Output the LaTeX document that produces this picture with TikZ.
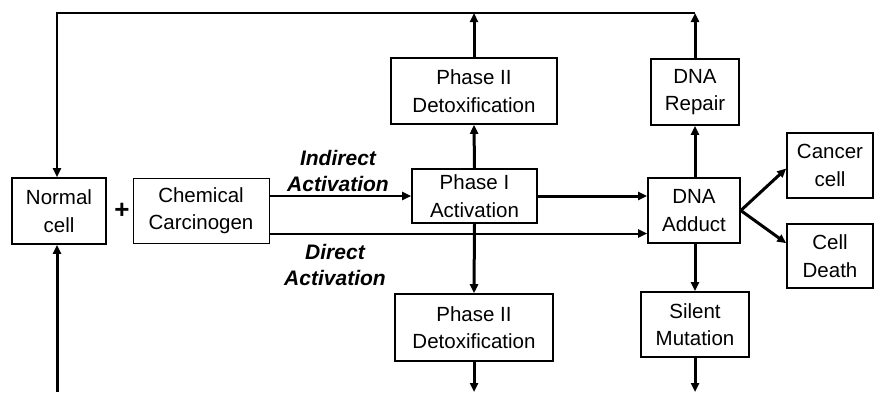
\documentclass[tikz,border=0pt]{standalone}
\usepackage{fontspec}
\setmainfont{Liberation Sans}
\usetikzlibrary{arrows.meta}

\begin{document}
\begin{tikzpicture}[x=1pt,y=-1pt,
  box/.style={draw,line width=1.6pt,inner sep=0pt,align=center,font=\fontsize{20.5}{27.5}\selectfont},
  headed/.style={-{Triangle[length=9pt,width=8pt]}},
  flow/.style={line width=3pt,headed},
  link/.style={line width=2pt},
  actlabel/.style={font=\fontsize{21}{26}\selectfont\bfseries\itshape,align=center,inner sep=0pt}]
\useasboundingbox (0,0) rectangle (875,392);
\node[box,minimum width=94pt,minimum height=66pt] (normal) at (59,211) {Normal\\cell};
\node[font=\fontsize{26}{26}\selectfont\bfseries,inner sep=0pt] (plus) at (122,211) {+};
\node[box,line width=1pt,minimum width=136pt,minimum height=65pt] (carcinogen) at (201,210.5) {Chemical\\Carcinogen};
\node[box,minimum width=125pt,minimum height=54pt] (phaseI) at (474.5,196) {Phase I\\Activation};
\node[box,minimum width=166pt,minimum height=66pt] (detoxup) at (474,91) {Phase II\\Detoxification};
\node[box,minimum width=158pt,minimum height=67pt] (detoxdown) at (474,327.5) {Phase II\\Detoxification};
\node[box,minimum width=92pt,minimum height=65pt] (adduct) at (694,210.5) {DNA\\Adduct};
\node[box,minimum width=88pt,minimum height=66pt] (repair) at (695,92) {DNA\\Repair};
\node[box,minimum width=108pt,minimum height=65pt] (silent) at (695,324.5) {Silent\\Mutation};
\node[box,minimum width=86pt,minimum height=65pt] (cancer) at (830,165.5) {Cancer\\cell};
\node[box,minimum width=86pt,minimum height=64pt] (death) at (830,256) {Cell\\Death};
\node[actlabel] (lblIndirect) at (338,171) {Indirect\\Activation};
\node[actlabel] (lblDirect) at (335,265) {Direct\\Activation};
% loop back to the normal cell
\coordinate (cTopLeft) at (57,13);
\coordinate (cDetoxTop) at (474,13);
\coordinate (cRepairTop) at (695,13);
\coordinate (cNormalBot) at (57,392);
\coordinate (cDetoxBot) at (474,392);
\coordinate (cSilentBot) at (695,392);
\draw[link,headed] (cRepairTop) -- (cTopLeft) -- (cTopLeft |- normal.north);
\draw[flow] (cNormalBot) -- (cNormalBot |- normal.south);
% activation routes
\draw[link,headed] (carcinogen.east |- phaseI.west) -- (phaseI.west);
\coordinate (cDirect) at ([yshift=-23pt]carcinogen.east);
\draw[link,headed] (cDirect) -- (cDirect -| adduct.west);
\draw[flow] (phaseI.east) -- (phaseI.east -| adduct.west);
% vertical branches
\draw[flow] (phaseI.north) -- (detoxup.south);
\draw[flow] (detoxup.north) -- (cDetoxTop);
\draw[flow] (phaseI.south) -- (detoxdown.north);
\draw[flow] (detoxdown.south) -- (cDetoxBot);
\draw[flow] (adduct.north -| repair.south) -- (repair.south);
\draw[flow] (repair.north) -- (cRepairTop);
\draw[flow] (adduct.south -| silent.north) -- (silent.north);
\draw[flow] (silent.south) -- (cSilentBot);
% outcomes
\draw[flow] (adduct.east) -- ([yshift=-3pt]cancer.west);
\draw[flow] (adduct.east) -- ([yshift=-20pt]death.north west);
\end{tikzpicture}
\end{document}
